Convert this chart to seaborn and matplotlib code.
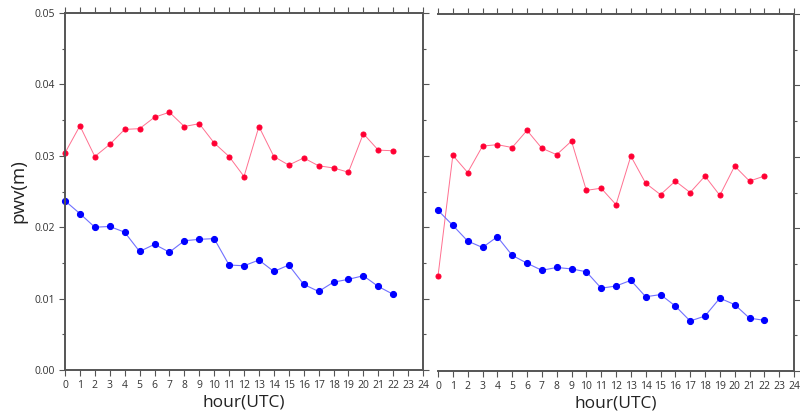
import numpy as np
import pandas as pd
import matplotlib
matplotlib.use("Agg")
import matplotlib.pyplot as plt
from matplotlib.ticker import MultipleLocator, FormatStrFormatter
import seaborn as sns

hours = list(range(23))

left_red = [0.0304, 0.0342, 0.0299, 0.0316, 0.0337, 0.0338, 0.0354, 0.0361, 0.0341,
            0.0345, 0.0318, 0.0299, 0.0271, 0.0341, 0.0299, 0.0287, 0.0297, 0.0286,
            0.0283, 0.0277, 0.0331, 0.0308, 0.0307]
left_blue = [0.0237, 0.0219, 0.0200, 0.0201, 0.0193, 0.0166, 0.0176, 0.0165, 0.0181,
             0.0183, 0.0184, 0.0147, 0.0146, 0.0154, 0.0138, 0.0147, 0.0120, 0.0110,
             0.0123, 0.0127, 0.0132, 0.0117, 0.0106]
right_red = [0.0133, 0.0302, 0.0278, 0.0315, 0.0317, 0.0313, 0.0337, 0.0312, 0.0303,
             0.0322, 0.0253, 0.0256, 0.0233, 0.0301, 0.0263, 0.0247, 0.0266, 0.0250,
             0.0273, 0.0246, 0.0287, 0.0266, 0.0273]
right_blue = [0.0225, 0.0204, 0.0182, 0.0173, 0.0188, 0.0162, 0.0151, 0.0141, 0.0145,
              0.0143, 0.0139, 0.0116, 0.0119, 0.0127, 0.0104, 0.0107, 0.0091, 0.0070,
              0.0077, 0.0102, 0.0093, 0.0074, 0.0071]

xticks = list(range(25))
yticks = [0.00, 0.01, 0.02, 0.03, 0.04, 0.05]

sns.set_style("ticks")
plt.rcParams['font.family'] = ['Open Sans', 'DejaVu Sans']

fig = plt.figure(figsize=(8, 4.17), dpi=100)
axL = fig.add_axes([65/800, 1-370/417, (423-65)/800, (370-13)/417])
axR = fig.add_axes([438/800, 1-371/417, (794-438)/800, (371-14)/417])

red_dot = "#ff0033"
red_line = "#ff7090"
blue_dot = "#0000ff"
blue_line = "#7070ff"
spine_c = "#555555"
txt_c = "#333333"

for ax, red, blue in [(axL, left_red, left_blue), (axR, right_red, right_blue)]:
    df_r = pd.DataFrame({"hour": hours, "pwv": red})
    df_b = pd.DataFrame({"hour": hours, "pwv": blue})
    sns.lineplot(data=df_r, x="hour", y="pwv", ax=ax, color=red_line, lw=0.7,
                 marker="o", markersize=3.6, markerfacecolor=red_dot,
                 markeredgecolor=red_dot, clip_on=False)
    sns.lineplot(data=df_b, x="hour", y="pwv", ax=ax, color=blue_line, lw=0.8,
                 marker="o", markersize=4.4, markerfacecolor=blue_dot,
                 markeredgecolor=blue_dot, clip_on=False)
    ax.set_xlim(0, 24)
    ax.set_ylim(0, 0.05)
    ax.set_xticks(xticks)
    ax.set_xticklabels([str(h) for h in xticks])
    ax.yaxis.set_minor_locator(MultipleLocator(0.005))
    ax.set_yticks(yticks)
    ax.yaxis.set_major_formatter(FormatStrFormatter("%.2f"))
    for s in ax.spines.values():
        s.set_color(spine_c)
        s.set_linewidth(1.4)
    ax.tick_params(axis="both", which="both", direction="out", colors=spine_c,
                   labelcolor=txt_c, labelsize=7.5, width=0.8)
    ax.tick_params(axis="both", which="major", length=4)
    ax.tick_params(axis="y", which="minor", length=2.5)
    ax.tick_params(axis="x", top=True, pad=3)
    ax.set_xlabel("hour(UTC)", fontsize=12.5, color="#222222", labelpad=3)

axL.tick_params(axis="y", left=True, right=True, labelleft=True, labelright=False)
axL.tick_params(axis="y", which="minor", left=True, right=True)
axL.set_ylabel("pwv(m)", fontsize=13.5, color="#222222", labelpad=5)

axR.spines["left"].set_visible(False)
axR.tick_params(axis="y", which="both", left=False, right=True,
                labelleft=False, labelright=False)
axR.set_ylabel("")

fig.savefig("out.png", dpi=100)
